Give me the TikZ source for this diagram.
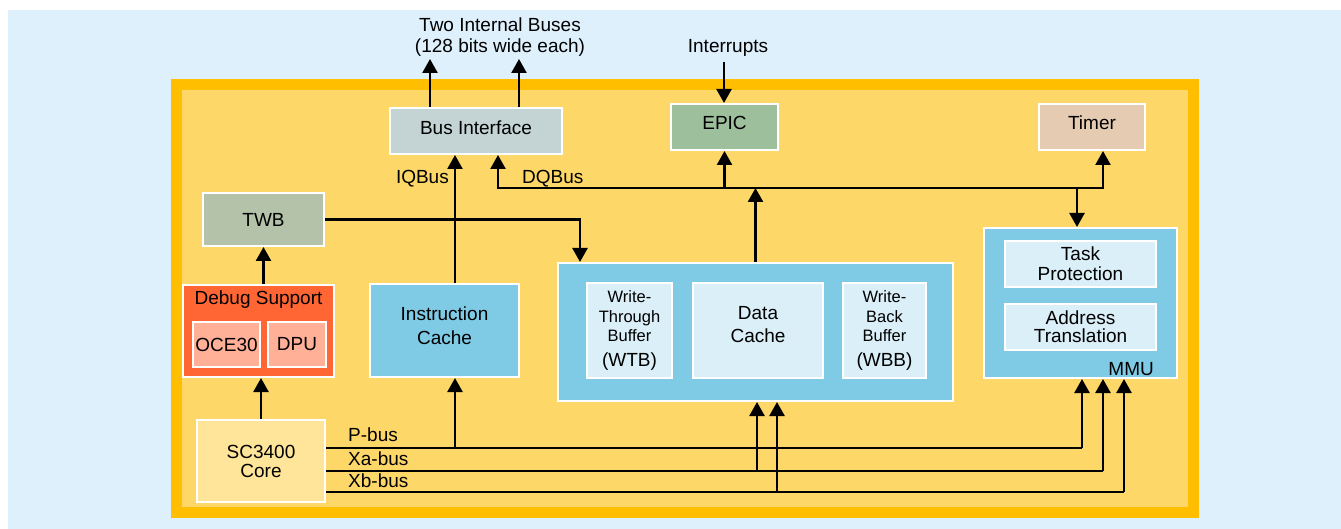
\documentclass[tikz,border=0pt]{standalone}
\usepackage{xcolor}
\usepackage{fontspec}
\setmainfont{Liberation Sans}
\usepackage{tikz}
\usetikzlibrary{positioning, arrows.meta, calc}
\definecolor{bgblue}{HTML}{DFF0FD}
\definecolor{framegold}{HTML}{FFBF00}
\definecolor{chipyellow}{HTML}{FDD868}
\definecolor{busgrey}{HTML}{C4D4D4}
\definecolor{epicgreen}{HTML}{9EBF9C}
\definecolor{timertan}{HTML}{E5CBB1}
\definecolor{twbgreen}{HTML}{B5C2AA}
\definecolor{debugred}{HTML}{FF6633}
\definecolor{ocepink}{HTML}{FFB096}
\definecolor{cacheblue}{HTML}{7FCBE5}
\definecolor{paleblue}{HTML}{DAEFF7}
\definecolor{coreyellow}{HTML}{FFE599}

\begin{document}
\begin{tikzpicture}[x=1pt, y=-1pt,
    font=\fontsize{19}{20}\selectfont,
    blk/.style={draw=white, line width=2pt, inner sep=0pt, align=center},
    bufbox/.style={blk, fill=paleblue, minimum height=95pt, font=\fontsize{16.5}{19.5}\selectfont},
    arr/.style={line width=2.5pt, -{Triangle[length=14pt, width=15pt]}},
    bus/.style={line width=2.5pt}]
    \useasboundingbox (0,0) rectangle (1341,529);
    \fill[bgblue] (8,10) rectangle (1341,529);
    \filldraw[fill=chipyellow, draw=framegold, line width=11pt] (176.5,84.5) rectangle (1193.5,512.5);

    \node[blk, fill=busgrey, minimum width=172pt, minimum height=46pt, text depth=7pt] (busif) at (476,131) {Bus Interface};
    \node[blk, fill=epicgreen, minimum width=107pt, minimum height=46pt, text depth=8pt] (epic) at (724.5,127) {EPIC};
    \node[blk, fill=timertan, minimum width=106pt, minimum height=46pt, text depth=8pt] (timer) at (1092,127) {Timer};
    \node[blk, fill=twbgreen, minimum width=121pt, minimum height=53pt] (twb) at (263.5,219.5) {TWB};

    \node[blk, fill=debugred, minimum width=151pt, minimum height=92pt,
          label={[anchor=north, inner sep=7pt]north:Debug Support}] (debug) at (258.5,331) {};
    \node[blk, fill=ocepink, minimum width=67pt, minimum height=45pt] (oce) at (226.5,344.5) {OCE30};
    \node[blk, fill=ocepink, minimum width=58pt, minimum height=45pt] (dpu) at (297,344.5) {DPU};

    \node[blk, fill=cacheblue, minimum width=149pt, minimum height=93pt, text depth=10pt] (icache) at (444.5,330.5)
        {Instruction\\[4pt]Cache};

    \node[blk, fill=cacheblue, minimum width=395pt, minimum height=138pt] (dgroup) at (755.5,332) {};
    \node[bufbox, minimum width=85pt] (wtb) at (629.5,330.5)
        {Write-\\Through\\Buffer\\[5pt]\fontsize{19}{20}\selectfont (WTB)};
    \node[blk, fill=paleblue, minimum width=130pt, minimum height=95pt, text depth=12pt] (dcache) at (758,330.5)
        {Data\\[3pt]Cache};
    \node[bufbox, minimum width=83pt] (wbb) at (884.5,330.5)
        {Write-\\Back\\Buffer\\[5pt]\fontsize{19}{20}\selectfont (WBB)};

    \node[blk, fill=cacheblue, minimum width=193pt, minimum height=150pt,
          label={[anchor=south east, inner sep=3pt, xshift=-21pt]south east:MMU}] (mmu) at (1080.5,303) {};
    \node[blk, fill=paleblue, minimum width=151pt, minimum height=46pt] (taskp) at (1080.5,264) {Task\\Protection};
    \node[blk, fill=paleblue, minimum width=151pt, minimum height=46pt,
          font=\fontsize{19}{18}\selectfont] (addrt) at (1080.5,327) {Address\\Translation};

    \node[blk, fill=coreyellow, minimum width=128pt, minimum height=82pt,
          font=\fontsize{19}{19}\selectfont] (core) at (261,461) {SC3400\\Core};

    \node[align=center, inner sep=0pt] (extbus) at (500,37) {Two Internal Buses\\[1pt](128 bits wide each)};
    \node[inner sep=0pt] (irq) at (728,48) {Interrupts};

    \coordinate (iq) at (455,0);
    \coordinate (dq) at (498,188);
    \coordinate (tm) at (1103,188);
    \coordinate (pb) at (0,448);
    \coordinate (xa) at (0,471);
    \coordinate (xb) at (0,492);

    \draw[arr] (430,0 |- busif.north) -- (430,59);
    \draw[arr] (519,0 |- busif.north) -- (519,59);
    \draw[arr] (724,62) -- (724,0 |- epic.north);

    \draw[arr] (iq |- icache.north) -- (iq |- busif.south);
    \node[anchor=base east, inner sep=0pt] (iqlbl) at (449,184) {IQBus};
    \draw[line width=2.5pt, {Triangle[length=14pt, width=15pt]}-{Triangle[length=14pt, width=15pt]}]
        (dq |- busif.south) -- (dq) -- (tm) -- (tm |- timer.south);
    \node[anchor=base west, inner sep=0pt] (dqlbl) at (522,184) {DQBus};
    \draw[arr] (epic.south |- dq) -- (epic.south);
    \draw[arr] (dgroup.north) -- (dgroup.north |- dq);
    \draw[arr] (1077,188) -- (1077,0 |- mmu.north);

    \draw[arr] (twb.east) -| (580,0 |- dgroup.north);
    \draw[arr] (twb.south |- debug.north) -- (twb.south);
    \draw[arr] (core.north) -- (core.north |- debug.south);

    \draw[bus] (core.east |- pb) -- (1082,448);
    \draw[bus] (core.east |- xa) -- (1103,471);
    \draw[bus] (core.east |- xb) -- (1124,492);
    \draw[arr] (1082,448) -- (1082,0 |- mmu.south);
    \draw[arr] (1103,471) -- (1103,0 |- mmu.south);
    \draw[arr] (1124,492) -- (1124,0 |- mmu.south);
    \draw[arr] (iq |- pb) -- (iq |- icache.south);
    \draw[arr] (757,471) -- (757,0 |- dgroup.south);
    \draw[arr] (777,492) -- (777,0 |- dgroup.south);
    \node[anchor=base west, inner sep=0pt] (pblbl) at (348,441) {P-bus};
    \node[anchor=base west, inner sep=0pt] (xalbl) at (348,465) {Xa-bus};
    \node[anchor=base west, inner sep=0pt] (xblbl) at (348,487) {Xb-bus};
\end{tikzpicture}
\end{document}
